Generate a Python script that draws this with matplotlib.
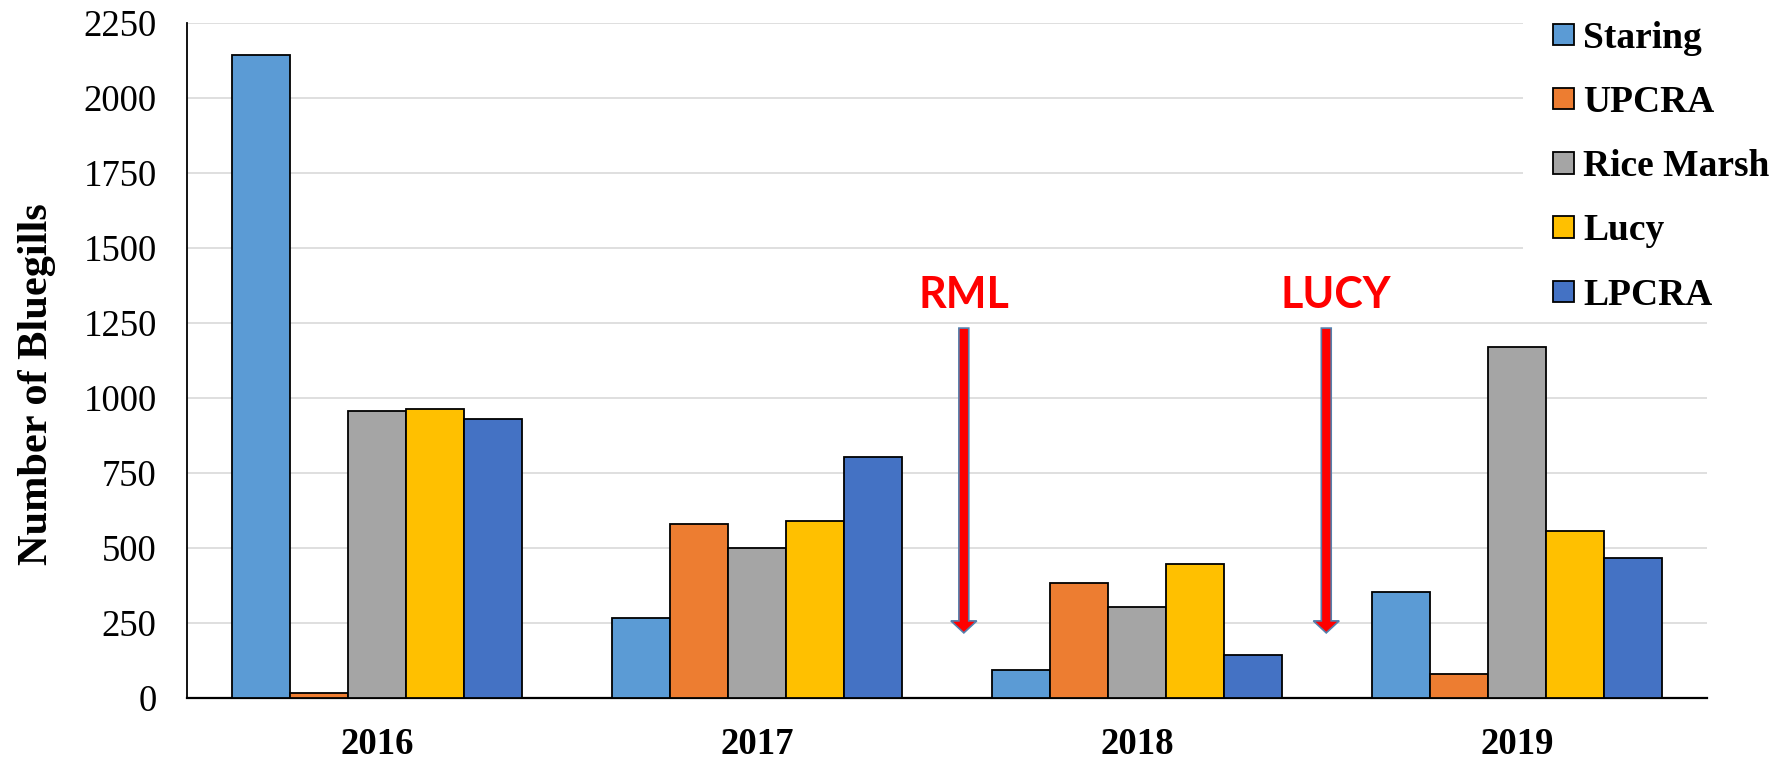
import matplotlib
matplotlib.use("Agg")
import matplotlib.pyplot as plt
from matplotlib.patches import FancyArrow, Rectangle
import numpy as np

years = ["2016", "2017", "2018", "2019"]
series_names = ["Staring", "UPCRA", "Rice Marsh", "Lucy", "LPCRA"]
staring = [2143, 265, 93, 351]
upcra = [15, 578, 382, 78]
rice_marsh = [957, 500, 301, 1170]
lucy = [961, 589, 445, 556]
lpcra = [928, 801, 142, 467]
series_values = [staring, upcra, rice_marsh, lucy, lpcra]
colors = ["#5B9BD5", "#ED7D31", "#A5A5A5", "#FFC000", "#4472C4"]
y_ticks = [0, 250, 500, 750, 1000, 1250, 1500, 1750, 2000, 2250]

# annotation markers (event arrows)
event_labels = ["RML", "LUCY"]
event_arrow_x = [1.544, 2.498]
event_text_x = [1.544, 2.522]
arrow_top, arrow_tip = 1232, 216
text_base = 1300

serif = ["Liberation Serif", "DejaVu Serif"]

fig = plt.figure(figsize=(17.87, 7.64), dpi=100)
ax = fig.add_axes([0.1048, 0.0868, 0.8504, 0.8835])

x = np.arange(len(years))
w = 0.1526
for i, (name, vals, c) in enumerate(zip(series_names, series_values, colors)):
    ax.bar(x + (i - 2) * w, vals, width=w, color=c, edgecolor="black",
           linewidth=1.3, label=name, zorder=3)

ax.set_xlim(-0.5, len(years) - 0.5)
ax.set_ylim(0, 2250)
ax.set_yticks(y_ticks)
ax.set_yticklabels([str(v) for v in y_ticks], family=serif, fontsize=26.5)
ax.set_xticks(x)
ax.set_xticklabels(years, family=serif, fontsize=26.5, fontweight="bold")
ax.tick_params(axis="y", length=0, pad=22)
ax.tick_params(axis="x", length=0, pad=21)
ax.yaxis.grid(True, color="#D9D9D9", linewidth=1.2, zorder=0)
ax.set_axisbelow(True)
for s in ["top", "right"]:
    ax.spines[s].set_visible(False)
ax.spines["left"].set_linewidth(1.3)
ax.spines["bottom"].set_linewidth(1.6)
ax.set_ylabel("Number of Bluegills", family=serif, fontsize=30.5,
              fontweight="bold")
ax.yaxis.set_label_coords(-0.0865, 0.465)

for lab, ax_x, tx in zip(event_labels, event_arrow_x, event_text_x):
    arr = FancyArrow(ax_x, arrow_top, 0, arrow_tip - arrow_top, width=0.026,
                     head_width=0.068, head_length=40, length_includes_head=True,
                     facecolor="#FF0000", edgecolor="#5580AD", linewidth=1.2,
                     zorder=5)
    ax.add_patch(arr)
    ax.text(tx, text_base, lab, ha="center", va="baseline", color="#FF0000",
            fontsize=31, fontweight="bold", family=["Lato", "DejaVu Sans"],
            zorder=5)

# white background behind legend (covers gridlines)
bg = Rectangle((0.8523, 0.6), 0.2, 0.45, transform=fig.transFigure,
               facecolor="white", edgecolor="none", zorder=2.5, clip_on=False)
ax.add_patch(bg)

leg = ax.legend(loc="upper left", bbox_to_anchor=(0.869, 0.973),
                bbox_transform=fig.transFigure, frameon=False, borderpad=0,
                borderaxespad=0, handlelength=0.55, handleheight=0.5,
                handletextpad=0.25, labelspacing=0.78,
                prop={"family": serif, "size": 27, "weight": "bold"})
leg.set_zorder(6)

fig.savefig("out.png", dpi=100)
